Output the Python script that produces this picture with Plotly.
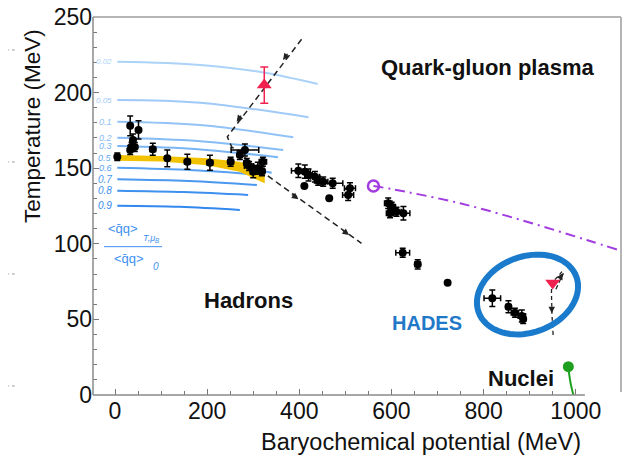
import numpy as np
import plotly.graph_objects as go

# ---------------- data ----------------
curve_levels = ["0.02", "0.05", "0.1", "0.2", "0.3", "0.5", "0.6", "0.7", "0.8", "0.9"]
curve_mu = [[5, 185, 325, 440], [5, 185, 420], [5, 185, 387], [5, 180, 365], [5, 180, 354],
            [5, 170, 340], [5, 170, 326], [5, 160, 308], [5, 150, 289], [5, 140, 271]]
curve_T = [[220.4, 218.3, 213.2, 205.7], [195.1, 193.3, 183.7], [180.8, 178.6, 170.4],
           [170.2, 168.0, 162.0], [164.7, 162.6, 157.2], [156.9, 155.0, 147.0],
           [150.3, 148.7, 145.5], [142.7, 141.5, 138.9], [135.1, 134.2, 132.3],
           [125.2, 124.5, 122.4]]
curve_colors = ["#abd2f8", "#9fcaf7", "#91c3f6", "#86bcf5", "#7ab5f4",
                "#62a8f2", "#58a1f1", "#4a98ef", "#3e90ee", "#3288ec"]
curve_label_sizes = [8, 8, 9, 9, 9, 9, 9, 10, 10, 10]

band_mu = [5, 100, 200, 270, 325]
band_hi = [158.7, 158.0, 156.5, 154.3, 150.0]
band_lo = [155.0, 154.5, 152.0, 147.7, 140.0]

mu_data = [5, 33, 51, 39, 36, 33, 43, 82, 113.5, 157, 206, 251, 282, 271, 291, 300, 310, 321, 319, 286,
           398, 412, 420, 434, 441, 452, 472.5, 510, 506, 411, 465,
           593, 600.6, 604, 611, 626, 597,
           624.5, 657, 722, 819, 854, 868, 883, 886]
T_data = [157.6, 178, 175.3, 168.6, 164.2, 162, 164, 162.5, 156.5, 154.3, 153.6, 154.3, 162, 158.7, 151.5,
          147.7, 150, 154.3, 148, 153.4,
          148.3, 147.7, 145.5, 144.4, 141.7, 141.1, 140, 136.7, 132.3, 138.2, 130.1,
          126.8, 124.5, 122.4, 121.2, 120.2, 120.2,
          94.1, 86.4, 74.3, 64, 58.4, 54.4, 52.2, 50.3]
mu_err = [3, 4, 3, 3, 3, 3, 3, 6, 4, 6, 6, 6, 30, 5, 10, 6, 8, 8, 6, 6,
          15, 12, 8, 10, 8, 10, 22, 12, 12, 0, 0,
          8, 8, 8, 10, 14, 8,
          15, 6, 0, 18, 5, 8, 8, 5]
T_err = [2.5, 6.5, 6, 4, 3, 3, 3, 4, 5.5, 5, 5, 3, 4, 3, 3, 4, 4, 3, 3, 3,
         4.4, 4.4, 4, 3.5, 3, 3, 3.3, 3.7, 3.7, 0, 0,
         3.5, 3, 3, 3, 4.4, 3,
         3, 3, 0, 5.5, 4, 3, 4, 3]

traj_mu = [405, 243.8, 253, 329, 535]
traj_T = [235.3, 170.8, 164.2, 145.5, 100.3]

hades_traj1_mu = [951, 948, 950, 964.5, 973]
hades_traj1_T = [39.7, 59.5, 73.9, 79.4, 82.7]
hades_traj2_mu = [957, 969.6, 976.8]
hades_traj2_T = [69.9, 78.2, 82.2]

purple_mu = [561, 604, 749, 894, 1024, 1093]
purple_T = [138.2, 136, 126.8, 114.6, 102.5, 95.9]

red_up_mu, red_up_T, red_up_err = [324], [205], [12]
red_down_mu, red_down_T = [950], [74]

green_mu = [984, 985.5, 989, 995]
green_T = [18.7, 14.4, 7.7, 0]

x_ticks = [0, 200, 400, 600, 800, 1000]
y_ticks = [0, 50, 100, 150, 200, 250]

# ---------------- figure ----------------
X0, X1 = -47.75, 1098.3
FONT = "Liberation Sans, Arial, Helvetica, sans-serif"
fig = go.Figure()

for lvl, mus, Ts, col in zip(curve_levels, curve_mu, curve_T, curve_colors):
    fig.add_trace(go.Scatter(x=mus, y=Ts, mode="lines",
                             line=dict(color=col, width=2, shape="spline", smoothing=1),
                             hoverinfo="skip"))

fig.add_trace(go.Scatter(x=band_mu + band_mu[::-1], y=band_hi + band_lo[::-1],
                         fill="toself", fillcolor="#f2c200", mode="lines",
                         line=dict(width=0, color="#f2c200"), hoverinfo="skip"))

fig.add_trace(go.Scatter(x=traj_mu, y=traj_T, mode="lines",
                         line=dict(color="#222", width=1.5, dash="6px,4px"), hoverinfo="skip"))
fig.add_trace(go.Scatter(x=hades_traj1_mu, y=hades_traj1_T, mode="lines",
                         line=dict(color="#222", width=1.3, dash="4px,3px", shape="spline"), hoverinfo="skip"))
fig.add_trace(go.Scatter(x=hades_traj2_mu, y=hades_traj2_T, mode="lines",
                         line=dict(color="#222", width=1.3, dash="4px,3px", shape="spline"), hoverinfo="skip"))

fig.add_trace(go.Scatter(x=purple_mu, y=purple_T, mode="lines",
                         line=dict(color="#a23be0", width=2, dash="10px,5px,2px,5px", shape="spline"),
                         hoverinfo="skip"))
fig.add_trace(go.Scatter(x=purple_mu[:1], y=purple_T[:1], mode="markers",
                         marker=dict(symbol="circle-open", size=11, color="#a23be0",
                                     line=dict(width=2.5, color="#a23be0")), hoverinfo="skip"))

fig.add_trace(go.Scatter(x=green_mu, y=green_T, mode="lines",
                         line=dict(color="#1ea01e", width=2, shape="spline"), hoverinfo="skip"))
fig.add_trace(go.Scatter(x=green_mu[:1], y=green_T[:1], mode="markers",
                         marker=dict(size=11, color="#1ea01e"), hoverinfo="skip"))

fig.add_trace(go.Scatter(x=mu_data, y=T_data, mode="markers",
                         marker=dict(size=8, color="black", symbol="circle"),
                         error_x=dict(type="data", array=mu_err, color="black", thickness=1.5, width=3),
                         error_y=dict(type="data", array=T_err, color="black", thickness=1.5, width=3),
                         hoverinfo="skip"))

fig.add_trace(go.Scatter(x=red_up_mu, y=red_up_T, mode="markers",
                         marker=dict(symbol="triangle-up", size=13, color="#f0214f"),
                         error_y=dict(type="data", array=red_up_err, color="#f0214f", thickness=1.5, width=4),
                         hoverinfo="skip"))
fig.add_trace(go.Scatter(x=red_down_mu, y=red_down_T, mode="markers",
                         marker=dict(symbol="triangle-down", size=13, color="#f0214f"),
                         hoverinfo="skip"))

# ---------------- HADES ellipse (decoration, in plot-area pixel geometry) ----------------
PXX = 528 / (X1 - X0)
PXY = 378 / 250.0
cx, cy, ea, eb, phi = 527.5, 294.5, 52, 38, np.radians(20)
t = np.linspace(0, 2 * np.pi, 73)
ex = cx + ea * np.cos(t) * np.cos(phi) - eb * np.sin(t) * np.sin(phi)
ey = cy - (ea * np.cos(t) * np.sin(phi) + eb * np.sin(t) * np.cos(phi))
emu = X0 + (ex - 93) / PXX
eT = (395 - ey) / PXY
path = "M " + " L ".join(f"{a:.2f},{b:.2f}" for a, b in zip(emu, eT)) + " Z"

shapes = [
    dict(type="path", path=path, xref="x", yref="y", line=dict(color="#1a7acc", width=6)),
    dict(type="line", xref="paper", yref="paper", x0=0, x1=1, y0=1, y1=1,
         line=dict(color="#b5b5b5", width=2)),
    dict(type="line", xref="paper", yref="paper", x0=1, x1=1, y0=0.008, y1=1,
         line=dict(color="#b5b5b5", width=2)),
    dict(type="line", xref="paper", yref="paper", x0=0, x1=0, y0=0, y1=1,
         line=dict(color="#8a8a8a", width=1.5)),
    dict(type="line", xref="x", yref="paper", x0=X0, x1=1020, y0=0, y1=0,
         line=dict(color="#8a8a8a", width=1.5)),
    dict(type="line", xref="x", yref="y", x0=-23.9, x1=102, y0=98.1, y1=98.1,
         line=dict(color="#3d8fef", width=1)),
]
for py in [50, 162, 274, 386]:
    yp = (395 - py) / 378
    shapes.append(dict(type="line", xref="paper", yref="paper", x0=-0.165, x1=-0.148,
                       y0=yp, y1=yp, line=dict(color="#cfcfcf", width=2, dash="dot")))

annotations = []
for lvl, mus, Ts, col, fs in zip(curve_levels, curve_mu, curve_T, curve_colors, curve_label_sizes):
    annotations.append(dict(x=mus[0], y=Ts[0], text=f"<i>{lvl}</i>", showarrow=False,
                            xanchor="right", yanchor="middle", xshift=-3,
                            font=dict(family=FONT, size=fs, color=col)))

qq = "&lt;q\u0304q&gt;"
annotations += [
    dict(x=-19.5, y=110.3, text=qq, showarrow=False, xanchor="left", yanchor="middle",
         font=dict(family=FONT, size=13, color="#3d8fef")),
    dict(x=57, y=103.5, text="<i>T,μ<sub>B</sub></i>", showarrow=False, xanchor="left", yanchor="middle",
         font=dict(family=FONT, size=9, color="#3d8fef")),
    dict(x=-7.2, y=90.4, text=qq, showarrow=False, xanchor="left", yanchor="middle",
         font=dict(family=FONT, size=13, color="#3d8fef")),
    dict(x=77.5, y=84.9, text="<i>0</i>", showarrow=False, xanchor="left", yanchor="middle",
         font=dict(family=FONT, size=10, color="#3d8fef")),
    dict(x=809.6, y=216.9, text="<b>Quark-gluon plasma</b>", showarrow=False,
         font=dict(family=FONT, size=22, color="#111")),
    dict(x=288.7, y=62.8, text="<b>Hadrons</b>", showarrow=False,
         font=dict(family=FONT, size=22, color="#111")),
    dict(x=881, y=10.6, text="<b>Nuclei</b>", showarrow=False,
         font=dict(family=FONT, size=22, color="#111")),
    dict(x=677, y=47.6, text="<b>HADES</b>", showarrow=False,
         font=dict(family=FONT, size=20, color="#1f78c8")),
    dict(xref="paper", yref="paper", x=-0.1155, y=0.7116, text="Temperature (MeV)",
         textangle=-90, showarrow=False, xanchor="center", yanchor="middle",
         font=dict(family=FONT, size=22.5, color="#111")),
    dict(xref="paper", yref="paper", x=0.928, y=-0.1235, text="Baryochemical potential (MeV)",
         showarrow=False, xanchor="right", yanchor="middle",
         font=dict(family=FONT, size=23.5, color="#111")),
]
for (am, aT, ax, ay) in [(364.7, 221.6, 6, -8), (264, 180.8, 6, -8),
                         (398, 129.4, -8, -6), (508, 105.8, -8, -6),
                         (972, 80.5, -4, 7), (948, 54, 0, -8)]:
    annotations.append(dict(x=am, y=aT, ax=ax, ay=ay, text=" ", showarrow=True,
                            arrowhead=2, arrowsize=1, arrowwidth=1.3, arrowcolor="#222",
                            standoff=0, font=dict(size=1)))

# the page body adds an 8px offset, so the margins are reduced by 8 on left/top
fig.update_layout(
    width=641, height=459,
    margin=dict(l=85, r=28, t=9, b=72, autoexpand=False),
    paper_bgcolor="white", plot_bgcolor="white",
    showlegend=False,
    shapes=shapes, annotations=annotations,
    xaxis=dict(range=[X0, X1], tickvals=x_ticks, ticks="inside", ticklen=6, tickcolor="#777",
               tickwidth=1, showgrid=False, zeroline=False, showline=False, automargin=False,
               ticklabeloverflow="allow",
               tickfont=dict(family=FONT, size=23, color="#111"),
               minor=dict(tickmode="array", tickvals=list(range(50, 1001, 50)), ticks="inside",
                          ticklen=4, tickcolor="#777", showgrid=False)),
    yaxis=dict(range=[0, 250], tickvals=y_ticks, ticks="inside", ticklen=6, tickcolor="#777",
               tickwidth=1, showgrid=False, zeroline=False, showline=False, automargin=False,
               ticklabeloverflow="allow",
               tickfont=dict(family=FONT, size=23, color="#111"),
               minor=dict(dtick=10, ticks="inside", ticklen=4, tickcolor="#777", showgrid=False)),
)

fig.write_html("out.html")
